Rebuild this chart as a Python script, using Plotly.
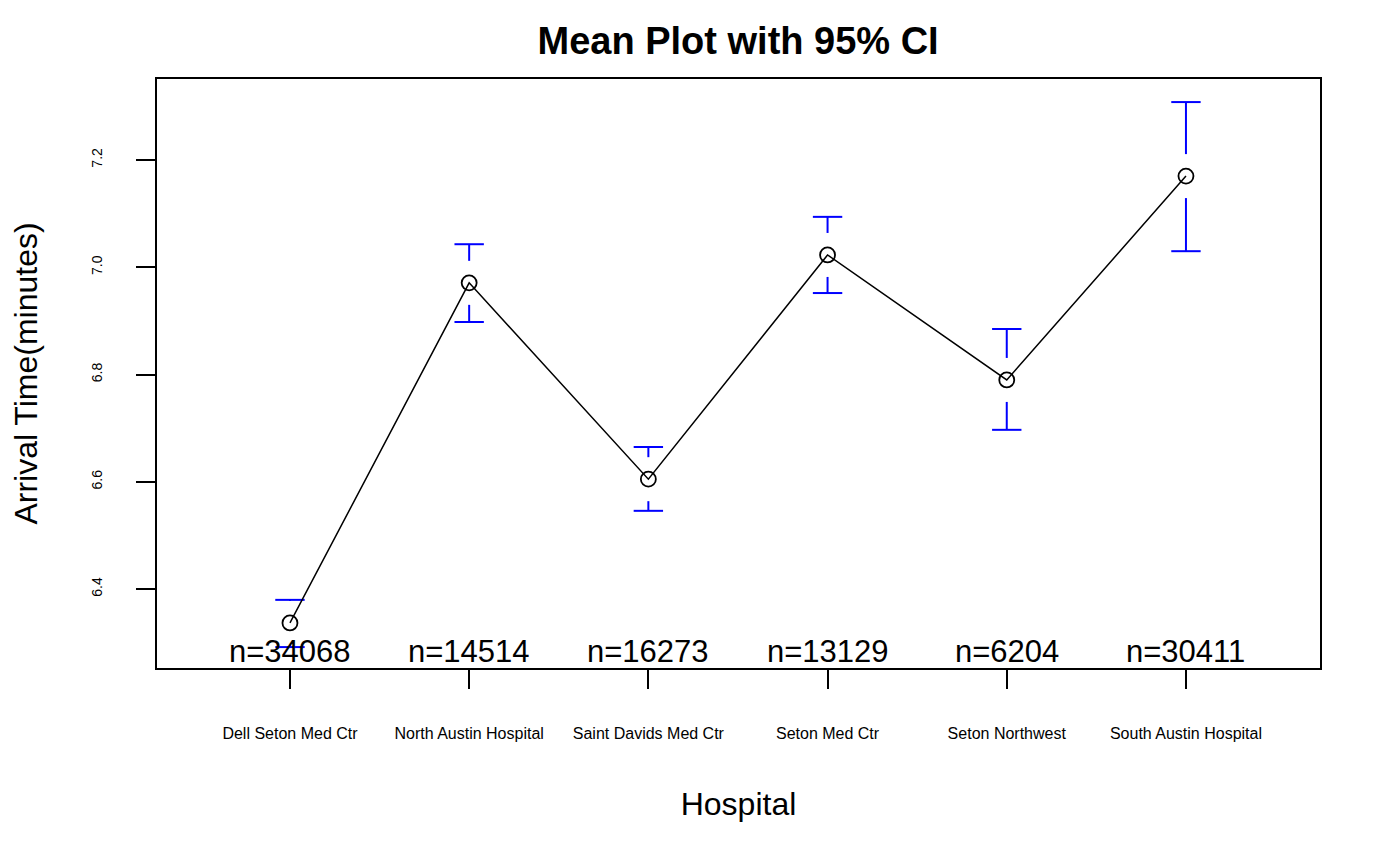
import plotly.graph_objects as go

hospitals = ["Dell Seton Med Ctr", "North Austin Hospital", "Saint Davids Med Ctr",
             "Seton Med Ctr", "Seton Northwest", "South Austin Hospital"]
means = [6.337, 6.971, 6.605, 7.023, 6.790, 7.170]
ci_upper = [6.380, 7.043, 6.665, 7.094, 6.885, 7.308]
ci_lower = [6.292, 6.898, 6.546, 6.952, 6.697, 7.030]
counts = [34068, 14514, 16273, 13129, 6204, 30411]
y_ticks = [6.4, 6.6, 6.8, 7.0, 7.2]

FONT = "Liberation Sans, Arial, Helvetica, sans-serif"
gap = 0.041      # gap between point and CI bar (data units)
cap = 0.082      # half-width of CI caps (x units)

xs = list(range(1, len(hospitals) + 1))

# CI bars (vertical segments with gap around the mean + caps)
bx, by = [], []
for x, m, lo, hi in zip(xs, means, ci_lower, ci_upper):
    if hi > m + gap:
        bx += [x, x, None]; by += [m + gap, hi, None]
    if lo < m - gap:
        bx += [x, x, None]; by += [m - gap, lo, None]
    bx += [x - cap, x + cap, None]; by += [hi, hi, None]
    bx += [x - cap, x + cap, None]; by += [lo, lo, None]

fig = go.Figure()
fig.add_trace(go.Scatter(x=bx, y=by, mode="lines",
                         line=dict(color="#0000FF", width=2),
                         hoverinfo="skip", showlegend=False))
fig.add_trace(go.Scatter(x=xs, y=means, mode="lines+markers",
                         line=dict(color="black", width=1.5),
                         marker=dict(symbol="circle-open", size=15,
                                     color="black", line=dict(width=1.8)),
                         showlegend=False))

for x, n in zip(xs, counts):
    fig.add_annotation(x=x, xref="x", y=0, yref="paper", yanchor="bottom",
                       text=f"n={n}", showarrow=False, yshift=-3,
                       font=dict(family=FONT, size=31, color="black"))

fig.update_layout(
    width=1400, height=865,
    paper_bgcolor="white", plot_bgcolor="white",
    margin=dict(l=149, r=88, t=71, b=205),
    title=dict(text="<b>Mean Plot with 95% CI</b>", x=0.5215, xanchor="center",
               y=0.962, yanchor="middle",
               font=dict(family=FONT, size=38, color="black")),
    font=dict(family=FONT, color="black"),
)
fig.update_xaxes(
    range=[0.258, 6.748], tickmode="array", tickvals=xs, ticktext=hospitals,
    showgrid=False, zeroline=False, showline=True, mirror=True, automargin=False,
    linecolor="black", linewidth=1.5, ticks="outside", ticklen=19,
    tickwidth=1.5, tickcolor="black", tickfont=dict(family=FONT, size=16),
    ticklabelstandoff=31,
    title=dict(text="Hospital", font=dict(family=FONT, size=32), standoff=52),
)
fig.update_yaxes(
    range=[6.253, 7.351], tickmode="array", tickvals=y_ticks,
    ticktext=[f"{v:.1f}" for v in y_ticks],
    showgrid=False, zeroline=False, showline=True, mirror=True, automargin=False,
    linecolor="black", linewidth=1.5, ticks="outside", ticklen=19,
    tickwidth=1.5, tickcolor="black", tickfont=dict(family=FONT, size=14),
    tickangle=-90, ticklabelstandoff=29,
    title=dict(text="Arrival Time(minutes)", font=dict(family=FONT, size=32), standoff=50),
)

fig.write_html("out.html")
